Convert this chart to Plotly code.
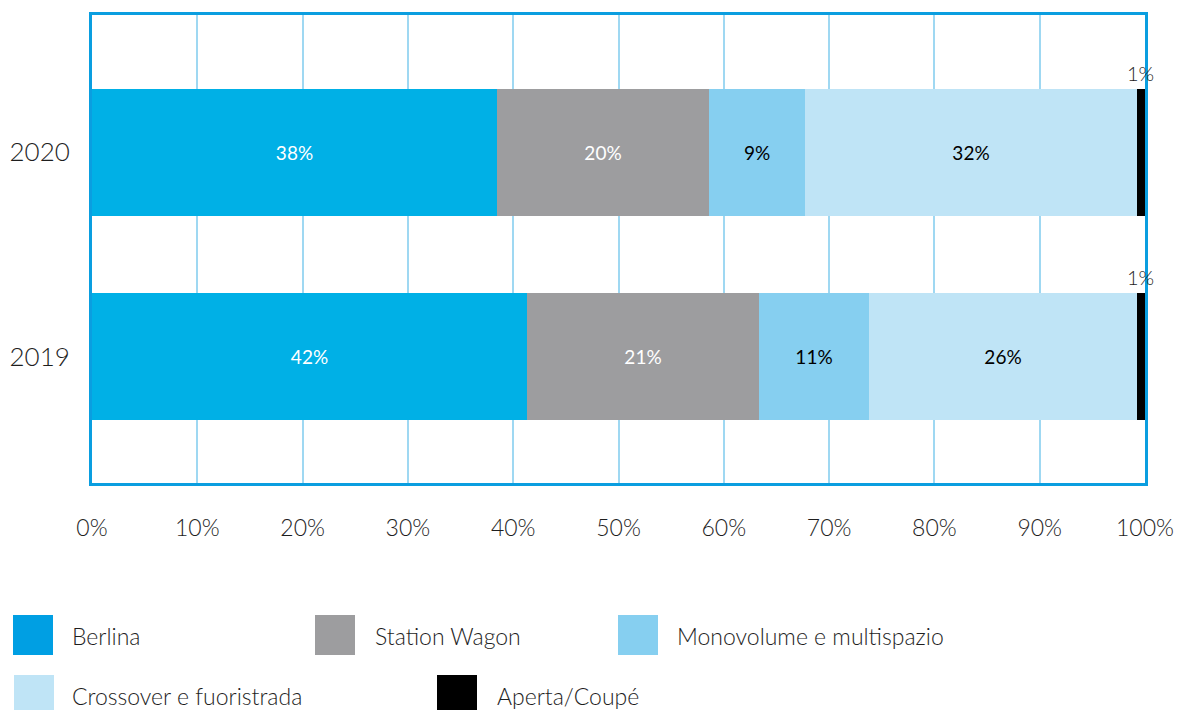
import plotly.graph_objects as go

years = ["2019", "2020"]
series_names = ["Berlina", "Station Wagon", "Monovolume e multispazio",
                "Crossover e fuoristrada", "Aperta/Coupé"]
# values (share %) per series, order [2019, 2020]
berlina = [41.3, 38.5]
station_wagon = [22.0, 20.1]
monovolume = [10.5, 9.1]
crossover = [25.4, 31.5]
aperta = [0.8, 0.8]
labels_berlina = ["42%", "38%"]
labels_sw = ["21%", "20%"]
labels_mono = ["11%", "9%"]
labels_cross = ["26%", "32%"]
labels_aperta = ["1%", "1%"]

bar_colors = ["#00b0e6", "#9d9d9f", "#86cff0", "#bfe4f6", "#000000"]
swatch_colors = ["#009fe3", "#9d9d9f", "#86cff0", "#bfe4f6", "#000000"]
text_colors = ["white", "white", "black", "black", "black"]

FONT = "Lato"
TXT = "#1e1e1e"
series = [berlina, station_wagon, monovolume, crossover, aperta]
labels = [labels_berlina, labels_sw, labels_mono, labels_cross, labels_aperta]
ypos = list(range(len(years)))
BAR_W = 0.62

fig = go.Figure()
for i, (name, vals, labs) in enumerate(zip(series_names, series, labels)):
    is_last = i == len(series) - 1
    fig.add_trace(go.Bar(
        y=ypos, x=vals, name=name, orientation="h",
        marker=dict(color=bar_colors[i], line=dict(width=0)),
        text=None if is_last else labs,
        textposition="inside", insidetextanchor="middle",
        textfont=dict(family=FONT, size=19, color=text_colors[i], weight=400),
        width=BAR_W, showlegend=False, hoverinfo="x+name",
    ))

# 1% labels above the thin black segments
for yi in ypos:
    start = berlina[yi] + station_wagon[yi] + monovolume[yi] + crossover[yi]
    fig.add_annotation(x=start + aperta[yi] / 2, y=yi + BAR_W / 2,
                       xref="x", yref="y", text=labels_aperta[yi],
                       showarrow=False, yanchor="bottom", yshift=2,
                       font=dict(family=FONT, size=20, color=TXT, weight=300))

# custom legend (large swatches), positions in screen pixels
OX, OY = 6, 6  # page offset compensation
PL, PT, PW, PH = 90 - OX, 13 - OY, 1053, 468  # plot area in figure pixels
swatch_x = [11, 313, 616, 12, 435]
text_x = [68, 371, 673, 68, 493]
row_y = [633, 633, 633, 693, 693]
for i, name in enumerate(series_names):
    sx, tx, ry = swatch_x[i] - OX, text_x[i] - OX, row_y[i] - OY
    fig.add_shape(type="rect", xref="paper", yref="paper",
                  x0=(sx - PL) / PW, x1=(sx + 40 - PL) / PW,
                  y0=(PT + PH - (ry + 20)) / PH, y1=(PT + PH - (ry - 20)) / PH,
                  fillcolor=swatch_colors[i], line=dict(width=0))
    fig.add_annotation(xref="paper", yref="paper",
                       x=(tx - PL) / PW, y=(PT + PH - ry - 1) / PH,
                       xanchor="left", yanchor="middle", text=name, showarrow=False,
                       font=dict(family=FONT, size=23, color=TXT, weight=300))

fig.update_layout(
    width=1182, height=710,
    margin=dict(l=PL, r=1182 - PL - PW, t=PT, b=710 - PT - PH, autoexpand=False),
    barmode="stack", bargap=0,
    plot_bgcolor="white", paper_bgcolor="white",
    font=dict(family=FONT, color=TXT, weight=300),
)
fig.update_xaxes(range=[0, 100], tickvals=list(range(0, 101, 10)),
                 ticktext=[f"{v}%" for v in range(0, 101, 10)],
                 showgrid=True, gridcolor="#9fd8f2", gridwidth=1.5,
                 showline=True, linecolor="#0a9ee0", linewidth=3, mirror=True,
                 zeroline=False, ticks="", ticklabelstandoff=22, automargin=False,
                 tickfont=dict(family=FONT, size=23, color=TXT, weight=300),
                 fixedrange=True)
fig.update_yaxes(range=[-0.617, 1.67], tickvals=ypos, ticktext=years,
                 showgrid=False, zeroline=False, automargin=False,
                 showline=True, linecolor="#0a9ee0", linewidth=3, mirror=True,
                 ticks="", ticklabelstandoff=14,
                 tickfont=dict(family=FONT, size=26, color=TXT, weight=300),
                 fixedrange=True)

fig.write_html("out.html")
